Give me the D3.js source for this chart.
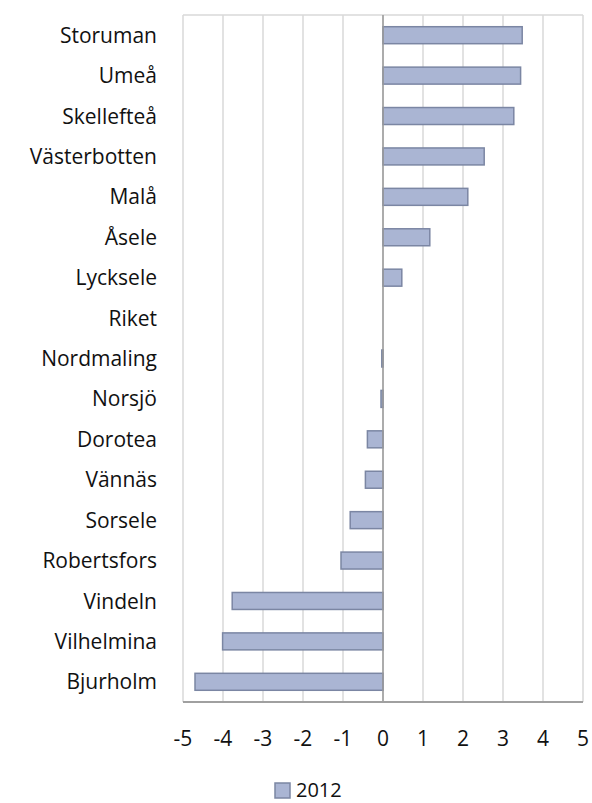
<!DOCTYPE html>
<html lang="sv">
<head>
<meta charset="utf-8">
<title>2012</title>
<script src="https://d3js.org/d3.v7.min.js"></script>
<style>
  body { margin: 0; background: #fff; }
  text { font-family: "Open Sans", sans-serif; fill: #111; }
</style>
</head>
<body>
<div id="chart"></div>
<script>
const width = 592
const height = 803

const kommuner = ["Storuman","Umeå","Skellefteå","Västerbotten","Malå","Åsele","Lycksele","Riket",
  "Nordmaling","Norsjö","Dorotea","Vännäs","Sorsele","Robertsfors","Vindeln","Vilhelmina","Bjurholm"]
const values2012 = [3.48, 3.44, 3.27, 2.53, 2.12, 1.17, 0.47, 0, -0.03, -0.05, -0.39, -0.44, -0.82, -1.05, -3.77, -4.01, -4.70]
const xTicks = [-5, -4, -3, -2, -1, 0, 1, 2, 3, 4, 5]
const seriesName = "2012"

const margin = {top: 15, right: 10, bottom: 101, left: 183}

const svg = d3.select("#chart").append("svg")
  .attr("width", width)
  .attr("height", height)

const x = d3.scaleLinear()
  .domain([-5, 5])
  .range([margin.left, 583])

const y = d3.scaleBand()
  .domain(kommuner)
  .range([margin.top, height - margin.bottom])
  .paddingInner(0.58)
  .paddingOuter(0.29)

// gridlines
svg.append("g")
  .selectAll("line")
  .data(xTicks)
  .join("line")
    .attr("x1", d => x(d))
    .attr("x2", d => x(d))
    .attr("y1", margin.top)
    .attr("y2", height - margin.bottom)
    .attr("stroke", "#d9d9d9")
    .attr("stroke-width", 1.5)

// top border
svg.append("line")
  .attr("x1", x(-5)).attr("x2", x(5))
  .attr("y1", margin.top).attr("y2", margin.top)
  .attr("stroke", "#d9d9d9").attr("stroke-width", 1.5)

// bars
svg.append("g")
  .selectAll("rect")
  .data(kommuner)
  .join("rect")
    .attr("x", (d, i) => x(Math.min(0, values2012[i])))
    .attr("y", d => y(d))
    .attr("width", (d, i) => Math.abs(x(values2012[i]) - x(0)))
    .attr("height", y.bandwidth())
    .attr("fill", "#aab5d3")
    .attr("stroke", "#7b86a3")
    .attr("stroke-width", 1.5)

// zero line
svg.append("line")
  .attr("x1", x(0)).attr("x2", x(0))
  .attr("y1", margin.top).attr("y2", height - margin.bottom)
  .attr("stroke", "#9a9a9a").attr("stroke-width", 1.5)

// bottom axis line
svg.append("line")
  .attr("x1", x(-5)).attr("x2", x(5))
  .attr("y1", height - margin.bottom).attr("y2", height - margin.bottom)
  .attr("stroke", "#a0a0a0").attr("stroke-width", 2)

// category labels
svg.append("g")
  .selectAll("text")
  .data(kommuner)
  .join("text")
    .attr("x", 157)
    .attr("y", d => y(d) + y.bandwidth() / 2)
    .attr("dy", "0.36em")
    .attr("text-anchor", "end")
    .style("font-size", "21px")
    .text(d => d)

// x tick labels
svg.append("g")
  .selectAll("text")
  .data(xTicks)
  .join("text")
    .attr("x", d => x(d))
    .attr("y", 746)
    .attr("text-anchor", "middle")
    .style("font-size", "21px")
    .text(d => d)

// legend
svg.append("rect")
  .attr("x", 275).attr("y", 783)
  .attr("width", 15).attr("height", 15)
  .attr("fill", "#aab5d3")
  .attr("stroke", "#7b86a3")
  .attr("stroke-width", 1.5)

svg.append("text")
  .attr("x", 296).attr("y", 797)
  .style("font-size", "20px")
  .text(seriesName)
</script>
</body>
</html>
